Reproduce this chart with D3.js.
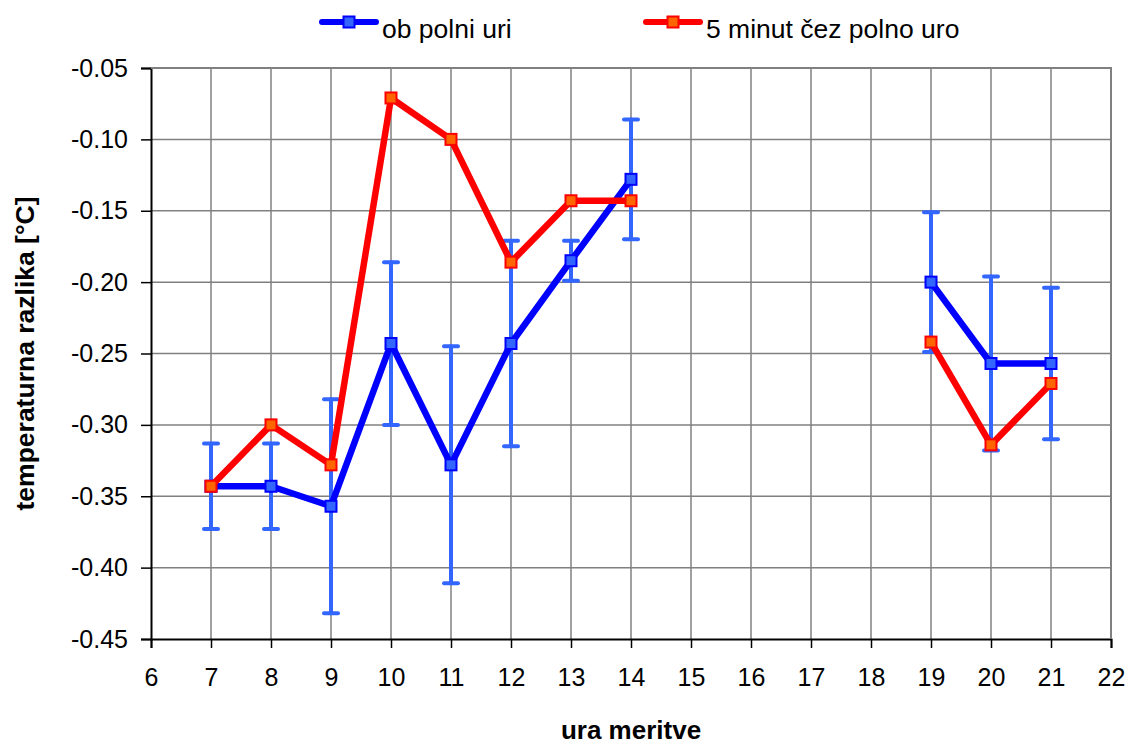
<!DOCTYPE html>
<html>
<head>
<meta charset="utf-8">
<script src="https://cdn.jsdelivr.net/npm/d3@7"></script>
<style>
  body { margin: 0; background: #fff; }
  svg { display: block; font-family: "Liberation Sans", Arial, sans-serif; }
</style>
</head>
<body>
<div id="chart"></div>
<script>
// ura meritve (hours); null = no measurement
const hours = [7, 8, 9, 10, 11, 12, 13, 14, 15, 16, 17, 18, 19, 20, 21];
const obPolniUri = [-0.343, -0.343, -0.357, -0.243, -0.328, -0.243, -0.185, -0.128, null, null, null, null, -0.200, -0.257, -0.257];
const obPolniUriErr = [0.030, 0.030, 0.075, 0.057, 0.083, 0.072, 0.014, 0.042, null, null, null, null, 0.049, 0.061, 0.053];
const petMinut = [-0.343, -0.300, -0.328, -0.071, -0.100, -0.186, -0.143, -0.143, null, null, null, null, -0.242, -0.314, -0.271];
const xTicks = d3.range(6, 23);
const yTicks = [-0.45, -0.40, -0.35, -0.30, -0.25, -0.20, -0.15, -0.10, -0.05];

const width = 1130, height = 753;
const margin = {top: 68, right: 19, bottom: 114, left: 151};

const svg = d3.select("#chart").append("svg")
    .attr("width", width)
    .attr("height", height);

const x = d3.scaleLinear().domain([6, 22]).range([margin.left, width - margin.right]);
const y = d3.scaleLinear().domain([-0.45, -0.05]).range([height - margin.bottom, margin.top]);

// grid
svg.append("g")
    .selectAll("line")
    .data(xTicks.slice(1))
    .join("line")
    .attr("x1", d => x(d)).attr("x2", d => x(d))
    .attr("y1", y(-0.05)).attr("y2", y(-0.45))
    .attr("stroke", "#808080").attr("stroke-width", 1.5);
svg.append("g")
    .selectAll("line")
    .data(yTicks.slice(1))
    .join("line")
    .attr("x1", x(6)).attr("x2", x(22))
    .attr("y1", d => y(d)).attr("y2", d => y(d))
    .attr("stroke", "#808080").attr("stroke-width", 1.5);

// axes
const xAxis = svg.append("g")
    .attr("transform", `translate(0,${y(-0.45)})`)
    .call(d3.axisBottom(x).tickValues(xTicks).tickFormat(d3.format("d")).tickSize(9).tickPadding(20));
const yAxis = svg.append("g")
    .attr("transform", `translate(${x(6)},0)`)
    .call(d3.axisLeft(y).tickValues(yTicks).tickFormat(d3.format(".2f")).tickSize(10).tickPadding(13));
[xAxis, yAxis].forEach(a => {
    a.select(".domain").attr("stroke", "#000").attr("stroke-width", 2);
    a.selectAll(".tick line").attr("stroke", "#000").attr("stroke-width", 1.5);
    a.selectAll("text").attr("font-size", 25).attr("fill", "#000")
        .attr("font-family", "Liberation Sans, Arial, sans-serif");
});
yAxis.selectAll("text").text(d => d3.format(".2f")(d).replace("−", "-"));

// top/right border
svg.append("path")
    .attr("d", `M${x(6)},${y(-0.05)}H${x(22)}V${y(-0.45)}`)
    .attr("fill", "none").attr("stroke", "#808080").attr("stroke-width", 2);

const line = d3.line()
    .defined(d => d[1] != null)
    .x(d => x(d[0]))
    .y(d => y(d[1]));

// error bars (blue series)
const errData = hours.map((h, i) => ({h, v: obPolniUri[i], e: obPolniUriErr[i]})).filter(d => d.v != null);
const eb = svg.append("g")
    .attr("stroke", "#3366ff").attr("stroke-width", 4).attr("stroke-linecap", "round");
eb.selectAll("line.v").data(errData).join("line").attr("class", "v")
    .attr("x1", d => x(d.h)).attr("x2", d => x(d.h))
    .attr("y1", d => y(d.v + d.e)).attr("y2", d => y(d.v - d.e));
eb.selectAll("line.t").data(errData).join("line").attr("class", "t")
    .attr("x1", d => x(d.h) - 7).attr("x2", d => x(d.h) + 7)
    .attr("y1", d => y(d.v + d.e)).attr("y2", d => y(d.v + d.e));
eb.selectAll("line.b").data(errData).join("line").attr("class", "b")
    .attr("x1", d => x(d.h) - 7).attr("x2", d => x(d.h) + 7)
    .attr("y1", d => y(d.v - d.e)).attr("y2", d => y(d.v - d.e));

const series = [
    {name: "ob polni uri", values: obPolniUri, stroke: "#0000ff", fill: "#3366ff"},
    {name: "5 minut čez polno uro", values: petMinut, stroke: "#ff0000", fill: "#ff6600"}
];

series.forEach(s => {
    const pts = hours.map((h, i) => [h, s.values[i]]);
    svg.append("path")
        .datum(pts)
        .attr("fill", "none")
        .attr("stroke", s.stroke)
        .attr("stroke-width", 6.5)
        .attr("stroke-linejoin", "round")
        .attr("d", line);
    svg.append("g")
        .selectAll("rect")
        .data(pts.filter(d => d[1] != null))
        .join("rect")
        .attr("x", d => x(d[0]) - 5.5)
        .attr("y", d => y(d[1]) - 5.5)
        .attr("width", 11).attr("height", 11)
        .attr("fill", s.fill)
        .attr("stroke", s.stroke)
        .attr("stroke-width", 2);
});

// legend
const legendX = [319, 643];
series.forEach((s, i) => {
    const g = svg.append("g").attr("transform", `translate(${legendX[i]},22)`);
    g.append("line").attr("x1", 3).attr("x2", 57)
        .attr("stroke", s.stroke).attr("stroke-width", 6).attr("stroke-linecap", "round");
    g.append("rect").attr("x", 24.5).attr("y", -5.5).attr("width", 11).attr("height", 11)
        .attr("fill", s.fill).attr("stroke", s.stroke).attr("stroke-width", 2);
    g.append("text").attr("x", 63).attr("y", 16)
        .attr("font-size", 26.5).text(s.name);
});

// axis titles
svg.append("text")
    .attr("x", (x(6) + x(22)) / 2).attr("y", 739)
    .attr("text-anchor", "middle")
    .attr("font-size", 26).attr("font-weight", "bold")
    .text("ura meritve");
svg.append("text")
    .attr("transform", `translate(34,${(y(-0.05) + y(-0.45)) / 2}) rotate(-90)`)
    .attr("text-anchor", "middle")
    .attr("font-size", 26.5).attr("font-weight", "bold")
    .text("temperaturna razlika [°C]");
</script>
</body>
</html>
